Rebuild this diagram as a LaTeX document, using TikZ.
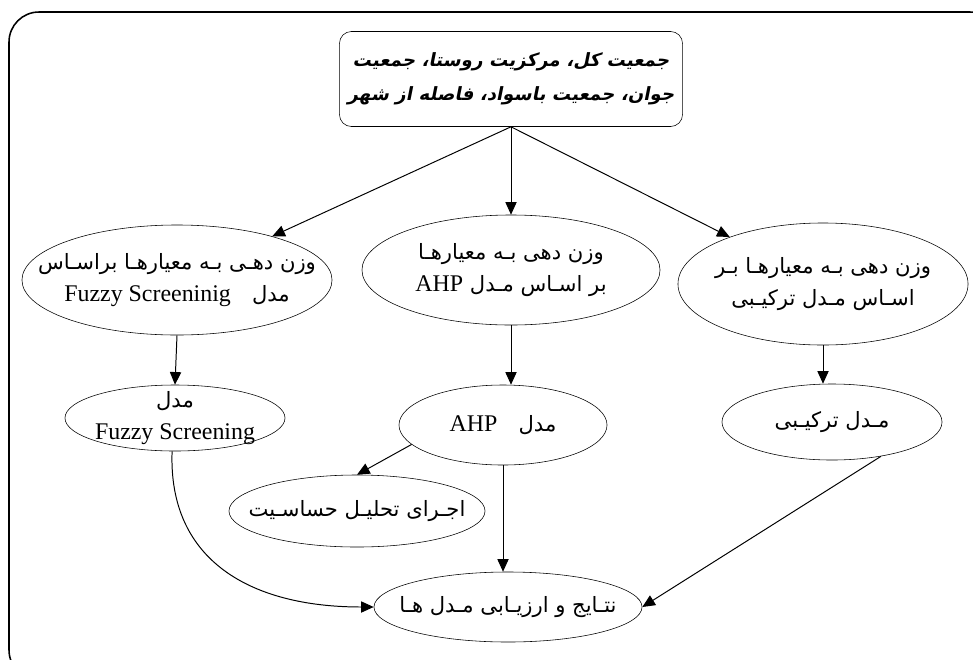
\documentclass[tikz,border=0pt]{standalone}
\usepackage{fontspec}
\setmainfont{Liberation Serif}
\newfontfamily\arabicfont[Script=Arabic,
  ItalicFont=DejaVu Sans,ItalicFeatures={FakeSlant=0.2},
  BoldItalicFont=DejaVu Sans Bold,BoldItalicFeatures={FakeSlant=0.2}]{DejaVu Sans}
\TeXXeTstate=1
\usetikzlibrary{shapes.geometric,arrows.meta}
\newcommand{\fa}[1]{{\arabicfont\beginR #1\endR}}
\newcommand{\lat}[1]{\beginL{\rmfamily\fontsize{17}{23}\selectfont #1}\endL}

\begin{document}
\begin{tikzpicture}[x=0.025cm,y=-0.025cm,
  every node/.style={font=\fontsize{15}{23}\selectfont,align=center},
  oval/.style={draw,ellipse,inner xsep=-1.2cm,inner ysep=-0.4cm},
  link/.style={-{Triangle[length=9pt,width=8pt]},line width=0.7pt}]
  \useasboundingbox (0,0) rectangle (973,659);
  \begin{scope}
    \clip (0,0) rectangle (973,659);
    \draw[line width=1.1pt,rounded corners=0.75cm] (9,12) rectangle (1000,680);
  \end{scope}
  % criteria
  \node[draw,rounded corners=0.3cm,inner xsep=0pt,minimum width=8.575cm,minimum height=2.375cm,
    font=\fontsize{13}{24}\selectfont\bfseries\itshape] (top) at (511,79)
    {\fa{جمعیت کل، مرکزیت روستا، جمعیت}\\ \fa{جوان، جمعیت باسواد، فاصله از شهر}};
  % weighting
  \node[oval,minimum width=7.75cm,minimum height=2.75cm] (wfz) at (177,280)
    {\fa{وزن دهـی بـه معیارهـا براسـاس}\\ \fa{مدل\quad\lat{Fuzzy Screeninig}}};
  \node[oval,minimum width=7.45cm,minimum height=2.75cm] (wahp) at (511,270)
    {\fa{وزن دهی بـه معیارهـا}\\ \fa{بر اسـاس مـدل \lat{AHP}}};
  \node[oval,minimum width=7.25cm,minimum height=3.05cm] (wcmb) at (823,284)
    {\fa{وزن دهی بـه معیارهـا بـر}\\ \fa{اسـاس مـدل ترکیـبی}};
  % models
  \node[oval,minimum width=5.5cm,minimum height=1.65cm] (fz) at (175,418)
    {\fa{مدل}\\ \lat{Fuzzy Screening}};
  \node[oval,minimum width=5.2cm,minimum height=2cm] (ahp) at (503,425)
    {\fa{مدل\quad\lat{AHP}}};
  \node[oval,minimum width=5.5cm,minimum height=1.9cm] (cmb) at (832,422)
    {\fa{مـدل ترکیـبی}};
  \node[oval,minimum width=6.4cm,minimum height=1.8cm] (sens) at (357,511)
    {\fa{اجـرای تحلیـل حساسـیت}};
  \node[oval,minimum width=6.7cm,minimum height=1.75cm] (res) at (508,607)
    {\fa{نتـایج و ارزیـابی مـدل هـا}};
  % arrows
  \draw[link] (top.south) -- (wfz);
  \draw[link] (top.south) -- (wahp.north);
  \draw[link] (top.south) -- (wcmb);
  \draw[link] (wfz.south) -- (fz.north);
  \draw[link] (wahp.south) -- (ahp.north -| wahp.south);
  \draw[link] (wcmb.south) -- (cmb.north -| wcmb.south);
  \draw[link] (ahp.-168) -- (sens.north);
  \draw[link] (ahp.south) -- (res.north -| ahp.south);
  \draw[link] (fz.-95) .. controls (168,560) and (250,607) .. (res.west);
  \draw[link] (cmb.-35) -- (res.east);
\end{tikzpicture}
\end{document}
